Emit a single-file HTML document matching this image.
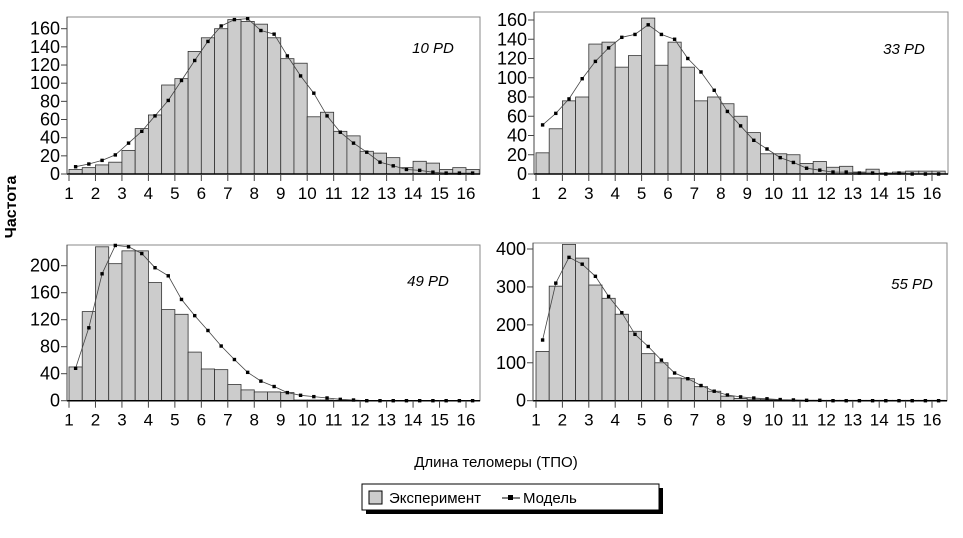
<!DOCTYPE html>
<html><head><meta charset="utf-8"><style>
body{margin:0;background:#fff;width:963px;height:533px;overflow:hidden;font-family:"Liberation Sans",sans-serif}
svg text{font-family:"Liberation Sans",sans-serif}
</style></head><body>
<svg id="s" width="963" height="533" xmlns="http://www.w3.org/2000/svg">
<text x="0" y="0" transform="translate(16,207) rotate(-90)" font-size="16" text-anchor="middle" font-weight="bold">Частота</text>
<text x="496" y="467" font-size="15" text-anchor="middle">Длина теломеры (ТПО)</text>
<rect x="366" y="488" width="297" height="26" fill="#000"/>
<rect x="362" y="484" width="297" height="26" fill="#fff" stroke="#000" stroke-width="1"/>
<rect x="369" y="491" width="13" height="13" fill="#ccc" stroke="#000"/>
<text x="389" y="503" font-size="15">Эксперимент</text>
<line x1="502" y1="498" x2="520" y2="498" stroke="#000"/><rect x="508" y="495" width="5" height="5" fill="#000"/>
<text x="523" y="503" font-size="15">Модель</text>
</svg>
<script>
var s=document.getElementById('s'),NS='http://www.w3.org/2000/svg';
function el(t,a,txt){var e=document.createElementNS(NS,t);for(var k in a)e.setAttribute(k,a[k]);if(txt!=null)e.textContent=txt;s.appendChild(e);return e;}
function panel(p){
 var u=(p.x16-p.x1)/15;function X(v){return p.x1+(v-1)*u}function Y(v){return p.y0-v*p.sc}
 el('rect',{x:p.fl,y:p.ft,width:p.fr-p.fl,height:p.y0-p.ft,fill:'#fff',stroke:'#888'});
 for(var i=0;i<p.b.length;i++){var x0=X(1+i*0.5),w=u/2,h=p.b[i]*p.sc;
  el('rect',{x:x0,y:p.y0-h,width:w,height:h,fill:'#ccc',stroke:'#333','stroke-width':0.8});}
 var pts=p.m.map(function(v,i){return X(1.25+i*0.5).toFixed(1)+','+Y(v).toFixed(1)}).join(' ');
 el('polyline',{points:pts,fill:'none',stroke:'#444','stroke-width':0.8});
 p.m.forEach(function(v,i){el('rect',{x:X(1.25+i*0.5)-1.7,y:Y(v)-1.7,width:3.4,height:3.4,fill:'#000'})});
 el('line',{x1:p.fl,y1:p.y0,x2:p.fr,y2:p.y0,stroke:'#000','stroke-width':1.5});
 el('line',{x1:p.fl,y1:p.ft,x2:p.fl,y2:p.y0,stroke:'#444'});
 for(var t=1;t<=16;t++){el('line',{x1:X(t),y1:p.y0,x2:X(t),y2:p.y0+7,stroke:'#444'});
  el('text',{x:X(t),y:p.y0+25,'font-size':17,'text-anchor':'middle'},t);}
 p.yt.forEach(function(v){el('line',{x1:p.fl-6,y1:Y(v),x2:p.fl,y2:Y(v),stroke:'#444'});
  el('text',{x:p.fl-7,y:Y(v)+6,'font-size':18,'text-anchor':'end'},v);});
 el('text',{x:p.lx,y:p.ly,'font-size':15,'font-style':'italic','text-anchor':'middle'},p.lab);
}
panel({x1:69,x16:466,fl:67,fr:480,ft:17,y0:174,sc:145.3/160,yt:[0,20,40,60,80,100,120,140,160],lab:'10 PD',lx:433,ly:53,
 b:[5,7,10,13,26,50,65,98,105,135,150,160,170,168,165,150,127,122,63,68,47,42,25,23,18,7,14,12,5,7,5],
 m:[8,11,15,21,34,47,64,81,103,125,146,163,170,171,158,154,130,108,89,64,46,34,24,13,9,5,4,2,1,1,1]});
panel({x1:536,x16:932,fl:534,fr:948,ft:12,y0:174,sc:154/160,yt:[0,20,40,60,80,100,120,140,160],lab:'33 PD',lx:904,ly:54,
 b:[22,47,76,80,135,137,111,123,162,113,137,111,76,80,73,60,43,21,21,20,11,13,7,8,2,5,1,2,3,3,3],
 m:[51,63,78,99,117,131,142,145,155,145,140,120,106,87,65,50,35,26,17,12,6,4,2,2,1,1,0,1,0,0,0]});
panel({x1:69,x16:466,fl:67,fr:480,ft:245,y0:400.7,sc:135/200,yt:[0,40,80,120,160,200],lab:'49 PD',lx:428,ly:286,
 b:[50,132,228,203,222,222,175,135,128,72,47,46,24,16,13,13,12,1,1,1,0,0,0,0,0,0,0,0,0,0,0],
 m:[48,108,188,230,228,218,197,185,150,126,104,81,61,42,29,21,12,8,6,4,2,1,0,0,0,0,0,0,0,0,0]});
panel({x1:536,x16:932,fl:533,fr:947,ft:243,y0:400.7,sc:151.7/400,yt:[0,100,200,300,400],lab:'55 PD',lx:912,ly:289,
 b:[130,302,412,376,305,270,228,183,124,100,60,58,37,25,12,6,4,3,2,1,1,1,1,1,1,1,1,1,1,1,1],
 m:[160,310,378,360,328,275,232,175,143,107,73,58,40,25,15,10,7,5,3,2,1,1,0,0,0,0,0,0,0,0,0]});
</script>
</body></html>
